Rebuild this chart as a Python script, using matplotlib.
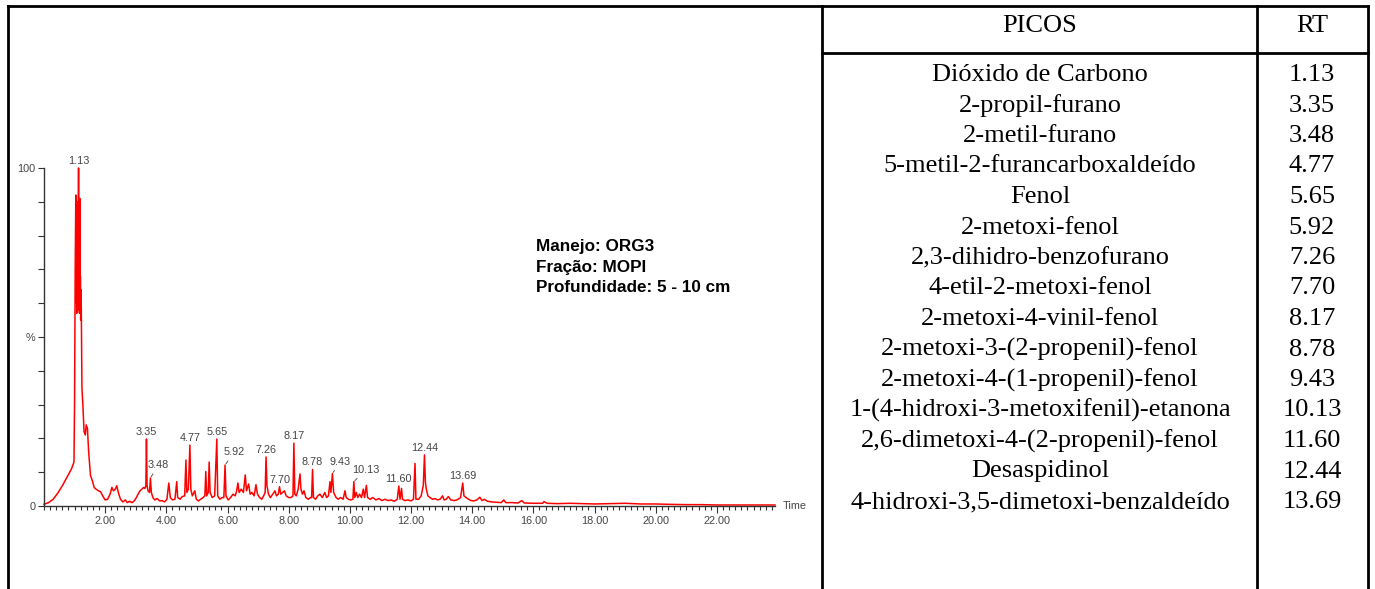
import numpy as np
import matplotlib
matplotlib.use("Agg")
import matplotlib.pyplot as plt
from matplotlib.ticker import MultipleLocator, FixedLocator

# ---------------------------------------------------------------- data
# Total ion chromatogram: retention time (min) and relative abundance (%)
trace_time = [
    0.00, 0.15, 0.30, 0.45, 0.60, 0.75, 0.90, 0.98, 1.00, 1.02, 1.04, 1.05, 1.06, 1.07,
    1.08, 1.09, 1.10, 1.11, 1.12, 1.13, 1.14, 1.15, 1.16, 1.17, 1.18, 1.19, 1.20, 1.21,
    1.22, 1.24, 1.27, 1.31, 1.35, 1.38, 1.42, 1.46, 1.52, 1.58,
    1.64, 1.70, 1.78, 1.85, 1.92, 2.00, 2.08, 2.16, 2.22, 2.27, 2.32, 2.38, 2.43, 2.50,
    2.58, 2.66, 2.72, 2.80, 2.88, 2.96, 3.02, 3.08, 3.14, 3.20, 3.26, 3.30, 3.33, 3.35,
    3.37, 3.40, 3.45, 3.48, 3.51, 3.56, 3.62, 3.70, 3.78, 3.86, 3.94, 4.02, 4.08, 4.13,
    4.20, 4.28, 4.34, 4.37, 4.45, 4.52, 4.60, 4.64, 4.67, 4.72, 4.77, 4.80, 4.85, 4.93,
    4.98, 5.05, 5.12, 5.20, 5.26, 5.29, 5.32, 5.37, 5.40, 5.43, 5.50, 5.58, 5.65, 5.68,
    5.75, 5.82, 5.88, 5.92, 5.95, 6.02, 6.10, 6.18, 6.25, 6.30, 6.34, 6.38, 6.45, 6.52,
    6.58, 6.62, 6.69, 6.74, 6.80, 6.87, 6.93, 6.98, 7.05, 7.12, 7.18, 7.23, 7.26, 7.29,
    7.34, 7.40, 7.48, 7.55, 7.60, 7.66, 7.70, 7.74, 7.80, 7.86, 7.92, 8.00, 8.08, 8.14,
    8.17, 8.20, 8.25, 8.31, 8.37, 8.40, 8.45, 8.50, 8.56, 8.64, 8.72, 8.75, 8.78, 8.81,
    8.88, 8.95, 9.02, 9.10, 9.18, 9.24, 9.30, 9.35, 9.38, 9.43, 9.47, 9.55, 9.62, 9.70,
    9.78, 9.84, 9.88, 9.95, 10.03, 10.10, 10.13, 10.16, 10.21, 10.26, 10.32, 10.38,
    10.44, 10.48, 10.54, 10.58, 10.66, 10.75, 10.85, 10.95, 11.05, 11.15, 11.25, 11.35,
    11.45, 11.55, 11.60, 11.64, 11.69, 11.72, 11.80, 11.90, 12.00, 12.08, 12.13, 12.16,
    12.25, 12.33, 12.40, 12.44, 12.47, 12.50, 12.55, 12.62, 12.70, 12.78, 12.87, 12.95,
    13.03, 13.08, 13.15, 13.22, 13.30, 13.40, 13.50, 13.62, 13.69, 13.73, 13.80, 13.88,
    13.96, 14.05, 14.15, 14.25, 14.32, 14.40, 14.50, 14.65, 14.80, 14.95, 15.03, 15.10,
    15.30, 15.50, 15.62, 15.70, 16.00, 16.30, 16.35, 16.45, 16.80, 17.20, 17.60, 18.00,
    18.50, 19.00, 19.50, 20.00, 20.40, 21.00, 21.50, 22.00, 22.50, 23.00, 23.90,
]
trace_abund = [
    0.5, 1.0, 2.0, 3.8, 6.0, 8.5, 11.0, 13.0, 31.0, 70.0, 92.0, 60.0, 85.0, 57.0,
    75.0, 60.0, 90.0, 58.0, 80.0, 100.0, 62.0, 72.0, 57.0, 91.0, 60.0, 68.0, 55.0, 64.0,
    58.0, 35.0, 30.0, 22.0, 21.0, 24.0, 23.0, 16.0, 9.0, 7.5,
    5.5, 5.0, 4.5, 4.2, 3.0, 1.8, 2.0, 3.5, 5.5, 4.5, 4.8, 6.0, 4.0, 2.0,
    1.2, 1.8, 1.0, 1.4, 1.0, 1.6, 2.5, 3.6, 4.5, 5.0, 5.5, 5.2, 6.0, 19.8,
    6.0, 4.5, 4.0, 8.3, 4.0, 2.5, 1.8, 2.2, 1.5, 1.6, 1.2, 2.0, 6.8, 2.5,
    1.8, 2.0, 7.2, 2.5, 2.0, 2.8, 3.0, 13.6, 4.0, 5.0, 18.0, 5.0, 3.0, 4.5,
    2.0, 1.5, 2.0, 2.5, 3.0, 10.2, 3.0, 4.0, 13.0, 4.0, 2.5, 3.0, 19.8, 3.0,
    2.0, 2.5, 2.5, 12.1, 3.0, 1.8, 2.5, 3.5, 3.0, 4.5, 6.8, 4.0, 5.0, 4.0,
    9.2, 4.5, 6.5, 3.5, 4.0, 3.0, 6.3, 3.5, 2.5, 2.0, 3.0, 4.0, 14.5, 6.0,
    3.5, 2.5, 3.5, 4.5, 3.0, 3.5, 5.7, 3.5, 4.0, 4.5, 3.0, 2.5, 2.5, 3.0,
    18.6, 3.5, 3.0, 5.0, 9.5, 5.0, 3.5, 4.5, 2.5, 2.0, 2.5, 2.5, 10.8, 2.5,
    2.0, 3.0, 3.5, 2.5, 4.0, 2.5, 3.0, 7.2, 4.0, 9.6, 4.0, 2.5, 2.0, 2.5,
    2.0, 4.5, 2.5, 2.0, 1.8, 2.0, 7.2, 2.5, 4.0, 2.5, 3.5, 2.5,
    5.0, 2.5, 6.1, 2.5, 2.0, 2.5, 1.8, 2.2, 1.6, 2.0, 1.6, 1.8,
    1.4, 2.0, 5.9, 2.0, 5.2, 2.0, 1.6, 1.8, 1.5, 2.0, 12.6, 2.0,
    2.0, 3.0, 6.0, 15.1, 7.0, 5.0, 3.0, 2.5, 2.0, 2.2, 1.8, 2.0,
    3.0, 1.8, 2.0, 2.8, 1.8, 1.6, 1.8, 2.5, 6.8, 3.0, 2.5, 2.0,
    1.6, 1.5, 1.8, 2.6, 1.6, 2.0, 1.4, 1.2, 1.1, 1.0, 1.8, 1.0,
    1.0, 0.9, 1.6, 0.9, 0.8, 0.8, 1.3, 0.8, 0.7, 0.8, 0.7, 0.6,
    0.7, 0.8, 0.6, 0.6, 0.5, 0.4, 0.4, 0.3, 0.3, 0.3, 0.3,
]

# Identified compounds and their retention times
compounds = [
    "Dióxido de Carbono",
    "2-propil-furano",
    "2-metil-furano",
    "5-metil-2-furancarboxaldeído",
    "Fenol",
    "2-metoxi-fenol",
    "2,3-dihidro-benzofurano",
    "4-etil-2-metoxi-fenol",
    "2-metoxi-4-vinil-fenol",
    "2-metoxi-3-(2-propenil)-fenol",
    "2-metoxi-4-(1-propenil)-fenol",
    "1-(4-hidroxi-3-metoxifenil)-etanona",
    "2,6-dimetoxi-4-(2-propenil)-fenol",
    "Desaspidinol",
    "4-hidroxi-3,5-dimetoxi-benzaldeído",
]
retention = ["1.13", "3.35", "3.48", "4.77", "5.65", "5.92", "7.26", "7.70",
             "8.17", "8.78", "9.43", "10.13", "11.60", "12.44", "13.69"]

# peak labels drawn with a short leader line: text offset in pixels
leader_offsets = {"3.48": (8, 13), "5.92": (9, 13), "9.43": (8, 12), "10.13": (12, 12)}

sample_info = ["Manejo: ORG3", "Fração: MOPI", "Profundidade: 5 - 10 cm"]

x_tick_values = [2, 4, 6, 8, 10, 12, 14, 16, 18, 20, 22]

# ---------------------------------------------------------------- figure
W, H = 1375, 589
fig = plt.figure(figsize=(W / 100, H / 100), dpi=100)
fig.patch.set_facecolor("white")

# page overlay in pixel units for the table frame and text
page = fig.add_axes([0, 0, 1, 1])
page.set_xlim(0, W)
page.set_ylim(H, 0)
page.axis("off")

lw_frame = 2.0
page.plot([8, 1368], [6, 6], color="black", lw=lw_frame, solid_capstyle="projecting")
page.plot([8, 8], [6, H + 5], color="black", lw=lw_frame)
page.plot([822, 822], [6, H + 5], color="black", lw=lw_frame)
page.plot([1257, 1257], [6, H + 5], color="black", lw=lw_frame)
page.plot([1368, 1368], [6, H + 5], color="black", lw=lw_frame)
page.plot([822, 1368], [53, 53], color="black", lw=lw_frame)

serif = ["Liberation Serif", "DejaVu Serif"]
page.text(1040, 26, "PICOS", ha="center", va="center", fontsize=19, family=serif)
page.text(1312, 26, "RT", ha="center", va="center", fontsize=19, family=serif)
row_y0, row_step = 75, 30.5
for i, (name, rt) in enumerate(zip(compounds, retention)):
    y = row_y0 + i * row_step
    page.text(1040, y, name, ha="center", va="center", fontsize=19, family=serif)
    page.text(1312, y, rt, ha="center", va="center", fontsize=19, family=serif)

sans = ["Liberation Sans", "DejaVu Sans"]
for i, line in enumerate(sample_info):
    page.text(536, 251.5 + i * 20.5, line, ha="left", va="baseline", fontsize=12.3,
              fontweight="bold", family=sans, color="black")

# ---------------------------------------------------------------- chromatogram
x0_px, x1_px = 44, 775
y0_px, y1_px = 506, 168
t_max = 23.9
ax = fig.add_axes([x0_px / W, 1 - y0_px / H, (x1_px - x0_px) / W, (y0_px - y1_px) / H])
ax.set_xlim(0, t_max)
ax.set_ylim(0, 100)
ax.patch.set_alpha(0)

ax.plot(trace_time, trace_abund, color="#ff0000", lw=1.1, clip_on=False)

axis_col = "#333333"
label_col = "#444444"
for s in ["top", "right"]:
    ax.spines[s].set_visible(False)
for s in ["left", "bottom"]:
    ax.spines[s].set_color(axis_col)
    ax.spines[s].set_linewidth(1.0)

ax.xaxis.set_major_locator(FixedLocator(x_tick_values))
ax.set_xticklabels([f"{v:.2f}" for v in x_tick_values])
ax.xaxis.set_minor_locator(MultipleLocator(0.2))
ax.tick_params(axis="x", which="major", length=5, width=0.8, color=axis_col,
               labelsize=7.8, labelcolor=label_col, pad=2)
ax.tick_params(axis="x", which="minor", length=3, width=0.8, color=axis_col)

ax.yaxis.set_major_locator(FixedLocator(list(range(0, 101, 10))))
ax.set_yticklabels(["0", "", "", "", "", "%", "", "", "", "", "100"])
ax.tick_params(axis="y", which="major", length=4, width=0.8, color=axis_col,
               labelsize=7.8, labelcolor=label_col, pad=2)
for lab in ax.get_xticklabels() + ax.get_yticklabels():
    lab.set_family(sans)

ax.text(t_max + 0.25, 0, "Time", ha="left", va="center", fontsize=7.8,
        color=label_col, family=sans)

# retention-time labels over the peaks
peak_height = dict(zip(trace_time, trace_abund))
for rt in retention:
    t = float(rt)
    h = peak_height[t]
    if rt in leader_offsets:
        dx, dy = leader_offsets[rt]
        ax.annotate(rt, xy=(t, h), xytext=(dx, dy), textcoords="offset pixels",
                    ha="center", va="center", fontsize=7.8, color=label_col,
                    family=sans,
                    arrowprops=dict(arrowstyle="-", color="#555555", lw=0.7,
                                    shrinkA=1, shrinkB=1))
    else:
        ax.annotate(rt, xy=(t, h), xytext=(0, 2), textcoords="offset pixels",
                    ha="center", va="bottom", fontsize=7.8, color=label_col,
                    family=sans)

fig.savefig("out.png", dpi=100)
